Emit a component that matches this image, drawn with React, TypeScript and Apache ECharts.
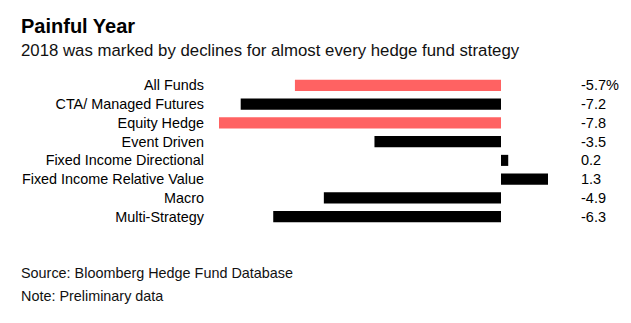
import React, { useEffect, useRef } from "react";
import * as echarts from "echarts";

const categories = [
  "All Funds",
  "CTA/ Managed Futures",
  "Equity Hedge",
  "Event Driven",
  "Fixed Income Directional",
  "Fixed Income Relative Value",
  "Macro",
  "Multi-Strategy",
];
const values = [-5.7, -7.2, -7.8, -3.5, 0.2, 1.3, -4.9, -6.3];
const highlighted = ["All Funds", "Equity Hedge"];
const valueLabels = ["-5.7%", "-7.2", "-7.8", "-3.5", "0.2", "1.3", "-4.9", "-6.3"];

const FONT = "Liberation Sans, Arial, sans-serif";

export default function App() {
  const ref = useRef<HTMLDivElement>(null);
  useEffect(() => {
    if (!ref.current) return;
    const chart = echarts.init(ref.current, undefined, { renderer: "svg" });
    chart.setOption({
      animation: false,
      backgroundColor: "#fff",
      textStyle: { fontFamily: FONT },
      grid: { left: 219, top: 76, width: 329, height: 150, containLabel: false },
      xAxis: {
        type: "value",
        min: -7.8,
        max: 1.3,
        show: false,
      },
      yAxis: [
        {
          type: "category",
          data: categories,
          inverse: true,
          axisLine: { show: false },
          axisTick: { show: false },
          splitLine: { show: false },
          axisLabel: { color: "#000", fontSize: 14.4, margin: 15, interval: 0, fontFamily: FONT },
        },
        {
          type: "category",
          data: valueLabels,
          inverse: true,
          position: "right",
          axisLine: { show: false },
          axisTick: { show: false },
          splitLine: { show: false },
          axisLabel: { color: "#000", fontSize: 14.5, margin: 33, interval: 0, align: "left", fontFamily: FONT },
        },
      ],
      series: [
        {
          type: "bar",
          yAxisIndex: 0,
          barCategoryGap: "41%",
          data: values.map((v, i) => ({
            value: v,
            itemStyle: { color: highlighted.includes(categories[i]) ? "#ff6262" : "#000" },
          })),
        },
      ],
      graphic: [
        {
          type: "text",
          x: 21,
          y: 26,
          style: { text: "Painful Year", fontSize: 20, fontWeight: "bold", fill: "#000", fontFamily: FONT, verticalAlign: "middle" },
        },
        {
          type: "text",
          x: 21,
          y: 50,
          style: {
            text: "2018 was marked by declines for almost every hedge fund strategy",
            fontSize: 16.8,
            fill: "#111",
            fontFamily: FONT,
            verticalAlign: "middle",
          },
        },
        {
          type: "text",
          x: 21,
          y: 273,
          style: { text: "Source: Bloomberg Hedge Fund Database", fontSize: 14.4, fill: "#111", fontFamily: FONT, verticalAlign: "middle" },
        },
        {
          type: "text",
          x: 21,
          y: 296,
          style: { text: "Note: Preliminary data", fontSize: 14.4, fill: "#111", fontFamily: FONT, verticalAlign: "middle" },
        },
      ],
    });
    return () => chart.dispose();
  }, []);
  return <div ref={ref} style={{ width: 631, height: 323, position: "absolute", left: 0, top: 0 }} />;
}
